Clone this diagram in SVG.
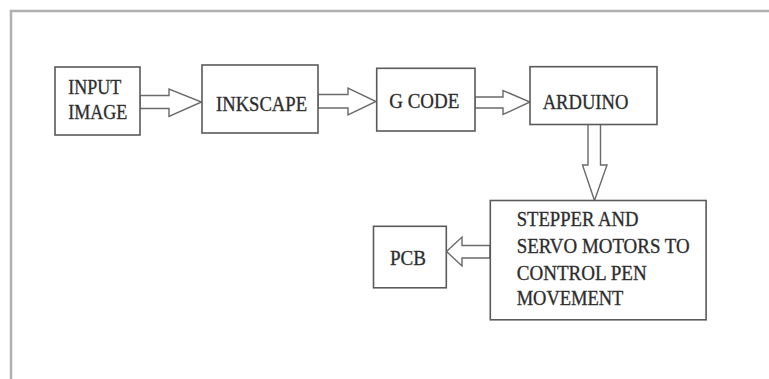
<svg xmlns="http://www.w3.org/2000/svg" width="769" height="379" viewBox="0 0 769 379">
<style>
.box{fill:#fff;stroke:#5a5a5a;stroke-width:1.6}
.arr{fill:#fff;stroke:#6a6a6a;stroke-width:1.4;stroke-linejoin:miter}
.t{font-size:21px;fill:#2a2a2a;stroke:#3a3a3a;stroke-width:0.35}
.frame{fill:none;stroke:#b0b0b0;stroke-width:2.5}
</style>
<rect width="769" height="379" fill="#fff"/>
<path class="frame" d="M11 379 V11 H769"/>
<g id="connectors">
<polygon class="arr" points="140,95.5 169,95.5 169,89 201.5,102 169,116.5 169,108.5 140,108.5"/>
<polygon class="arr" points="318,94.5 348,94.5 348,88 376,101.5 348,115 348,108 318,108"/>
<polygon class="arr" points="475,97 503,97 503,90.5 530,102 503,114.5 503,108 475,108"/>
<polygon class="arr" points="588,124 600.5,124 600.5,165 607,165 594.5,200.5 582.5,165 588,165"/>
<polygon class="arr" points="490,245.5 462,245.5 462,237 446.5,251.5 462,266 462,258 490,258"/>
</g>
<g font-family="Liberation Serif, Times New Roman, serif">
<g id="input-image">
<rect class="box" x="55" y="67" width="85" height="68"/>
<text class="t" x="68.3" y="93.5" textLength="53" lengthAdjust="spacingAndGlyphs">INPUT</text>
<text class="t" x="68.3" y="119" textLength="59" lengthAdjust="spacingAndGlyphs">IMAGE</text>
</g>
<g id="inkscape">
<rect class="box" x="202" y="65" width="116" height="68"/>
<text class="t" x="216" y="111" textLength="91" lengthAdjust="spacingAndGlyphs">INKSCAPE</text>
</g>
<g id="gcode">
<rect class="box" x="376.7" y="68.3" width="98.3" height="62.7"/>
<text class="t" x="389.3" y="108" textLength="70" lengthAdjust="spacingAndGlyphs">G CODE</text>
</g>
<g id="arduino">
<rect class="box" x="530" y="66.7" width="127" height="57.8"/>
<text class="t" x="542.7" y="109" textLength="85.7" lengthAdjust="spacingAndGlyphs">ARDUINO</text>
</g>
<g id="motors">
<rect class="box" x="490.3" y="200.5" width="215.8" height="119.3"/>
<text class="t" x="516.7" y="226" textLength="121.7" lengthAdjust="spacingAndGlyphs">STEPPER AND</text>
<text class="t" x="516.7" y="253" textLength="173" lengthAdjust="spacingAndGlyphs">SERVO MOTORS TO</text>
<text class="t" x="516.7" y="279.5" textLength="130" lengthAdjust="spacingAndGlyphs">CONTROL PEN</text>
<text class="t" x="516.7" y="305" textLength="106.7" lengthAdjust="spacingAndGlyphs">MOVEMENT</text>
</g>
<g id="pcb">
<rect class="box" x="373.5" y="226.3" width="72.8" height="61.5"/>
<text class="t" x="390" y="265" textLength="36" lengthAdjust="spacingAndGlyphs">PCB</text>
</g>
</g>
</svg>
